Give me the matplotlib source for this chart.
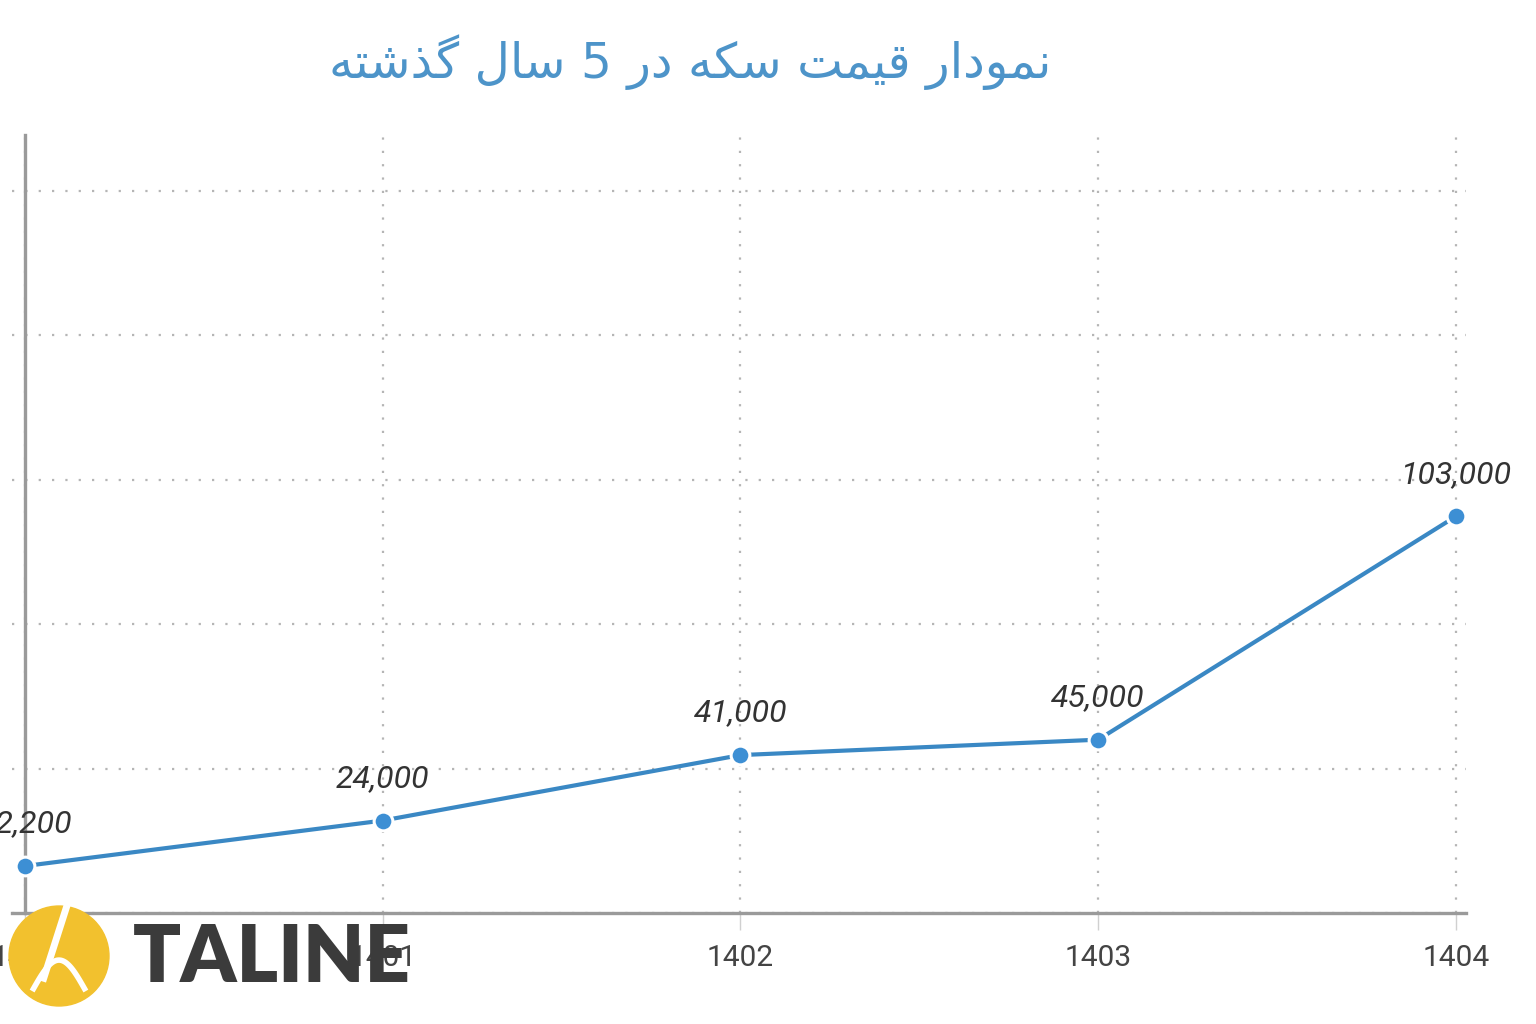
import numpy as np
import matplotlib
matplotlib.use("Agg")
import matplotlib.pyplot as plt
from matplotlib.ticker import MultipleLocator, NullFormatter
from matplotlib.patches import Circle

# chart data
years = ["1400", "1401", "1402", "1403", "1404"]
prices = [12200, 24000, 41000, 45000, 103000]
title_fa = "نمودار قیمت سکه در 5 سال گذشته"

LINE_COLOR = "#3a88c4"
GRID_COLOR = "#b5b5b5"
SPINE_COLOR = "#9a9a9a"

# matplotlib has no arabic shaping, so pick presentation forms by hand
# (isolated, final, initial, medial); None = letter never joins the next one
FORMS = {
    "ا": ("\uFE8D", "\uFE8E", None, None),
    "د": ("\uFEA9", "\uFEAA", None, None),
    "ذ": ("\uFEAB", "\uFEAC", None, None),
    "ر": ("\uFEAD", "\uFEAE", None, None),
    "و": ("\uFEED", "\uFEEE", None, None),
    "ن": ("\uFEE5", "\uFEE6", "\uFEE7", "\uFEE8"),
    "م": ("\uFEE1", "\uFEE2", "\uFEE3", "\uFEE4"),
    "ق": ("\uFED5", "\uFED6", "\uFED7", "\uFED8"),
    "ت": ("\uFE95", "\uFE96", "\uFE97", "\uFE98"),
    "س": ("\uFEB1", "\uFEB2", "\uFEB3", "\uFEB4"),
    "ش": ("\uFEB5", "\uFEB6", "\uFEB7", "\uFEB8"),
    "ل": ("\uFEDD", "\uFEDE", "\uFEDF", "\uFEE0"),
    "ه": ("\uFEE9", "\uFEEA", "\uFEEB", "\uFEEC"),
    "ی": ("\uFBFC", "\uFBFD", "\uFBFE", "\uFBFF"),
    "ک": ("\uFB8E", "\uFB8F", "\uFB90", "\uFB91"),
    "گ": ("\uFB92", "\uFB93", "\uFB94", "\uFB95"),
}


def shape_rtl(text):
    out = []
    for i, c in enumerate(text):
        if c not in FORMS:
            out.append(c)
            continue
        prev = text[i - 1] if i > 0 else None
        nxt = text[i + 1] if i + 1 < len(text) else None
        join_prev = prev in FORMS and FORMS[prev][2] is not None
        join_next = nxt in FORMS and FORMS[c][2] is not None
        iso, fin, ini, med = FORMS[c]
        if join_prev and join_next:
            out.append(med)
        elif join_prev:
            out.append(fin)
        elif join_next:
            out.append(ini)
        else:
            out.append(iso)
    return "".join(reversed(out))


fig = plt.figure(figsize=(15.36, 10.24), dpi=100)
W, H = 1536, 1024
ax = fig.add_axes([12 / W, 111 / H, 1454 / W, 778 / H])

x = np.arange(len(years))
ax.plot(x, prices, color=LINE_COLOR, lw=3.0, zorder=3, solid_capstyle="round")
ax.plot(x, prices, linestyle="none", marker="o", ms=13.5, mfc="#3d8fd4",
        mec="white", mew=2.2, zorder=4)

for xi, v in zip(x, prices):
    ax.annotate(f"{v:,}", (xi, v), xytext=(0, 42), textcoords="offset pixels",
                ha="center", va="center", fontsize=23, style="italic",
                family="Roboto", color="#333333", annotation_clip=False, zorder=5)

ax.set_xlim(-0.036, 4.028)
ax.set_ylim(0, 202000)
ax.spines["left"].set_position(("data", 0))
ax.spines["left"].set_bounds(0, 202000)
ax.set_xticks(x)
ax.set_xticklabels(years, family="Roboto", fontsize=21.5, color="#444444")
ax.yaxis.set_major_locator(MultipleLocator(37500))
ax.yaxis.set_minor_locator(MultipleLocator(12500))
ax.yaxis.set_major_formatter(NullFormatter())

ax.grid(True, axis="both", which="major", linestyle=(0, (1, 5)),
        color=GRID_COLOR, lw=1.6)
ax.tick_params(axis="x", length=12, width=1.0, color="#d0d0d0", pad=10)
ax.tick_params(axis="y", which="both", length=0)

for side in ["top", "right"]:
    ax.spines[side].set_visible(False)
for side in ["left", "bottom"]:
    ax.spines[side].set_color(SPINE_COLOR)
    ax.spines[side].set_linewidth(2.4)

fig.text(690 / W, 1 - 62 / H, shape_rtl(title_fa), ha="center", va="center",
         fontsize=35, color="#4d94c9", family="DejaVu Sans")

# watermark logo bottom left
lax = fig.add_axes([8 / W, 17 / H, 102 / W, 102 / H])
lax.set_xlim(0, 1)
lax.set_ylim(0, 1)
lax.axis("off")
lax.add_patch(Circle((0.5, 0.5), 0.49, color="#f2c12e"))
lax.plot([0.58, 0.34], [1.0, 0.25], color="white", lw=5, solid_capstyle="butt")
t = np.linspace(0.0, 1.0, 40)
lax.plot(0.25 + 0.5 * t, 0.18 + 0.28 * np.sin(np.pi * t), color="white", lw=4)

fig.text(133 / W, 1 - 958 / H, "TALINE", ha="left", va="center", fontsize=57,
         fontweight="heavy", family="Lato", color="#3b3b3b")

fig.savefig("out.png", dpi=100)
